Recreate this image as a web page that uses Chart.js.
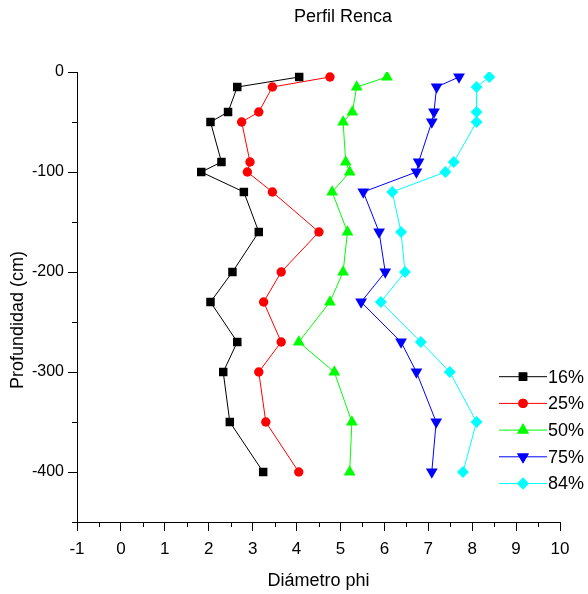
<!DOCTYPE html>
<html>
<head>
<meta charset="utf-8">
<script src="https://cdn.jsdelivr.net/npm/chart.js@4.4.1/dist/chart.umd.min.js"></script>
<style>
html,body{margin:0;padding:0;background:#fff;}
#caja{width:588px;height:594px;}
</style>
</head>
<body>
<div id="caja"><canvas id="grafico" width="588" height="594"></canvas></div>
<script>
// profundidad de cada muestra (cm)
var profundidad = [-5, -15, -40, -50, -90, -100, -120, -160, -200, -230, -270, -300, -350, -400];

// diametro phi por percentil
var p16 = [4.06, 2.65, 2.44, 2.04, 2.29, 1.83, 2.80, 3.14, 2.54, 2.04, 2.65, 2.33, 2.48, 3.24];
var p25 = [4.76, 3.45, 3.14, 2.75, 2.94, 2.88, 3.45, 4.51, 3.65, 3.25, 3.65, 3.14, 3.30, 4.05];
var p50 = [6.06, 5.37, 5.27, 5.06, 5.12, 5.21, 4.81, 5.16, 5.06, 4.76, 4.05, 4.86, 5.26, 5.21];
var p75 = [7.70, 7.19, 7.13, 7.08, 6.78, 6.73, 5.52, 5.88, 6.02, 5.47, 6.38, 6.73, 7.18, 7.08];
var p84 = [8.39, 8.10, 8.10, 8.10, 7.58, 7.39, 6.18, 6.38, 6.47, 5.92, 6.83, 7.49, 8.10, 7.79];

var etiquetas = ["16%", "25%", "50%", "75%", "84%"];
var colores = ["#000000", "#ff0000", "#00ff00", "#0000ff", "#00ffff"];

var titulo = "Perfil Renca";
var tituloX = "Diámetro phi";
var tituloY = "Profundidad (cm)";

var fuente = "'Liberation Sans', Arial, sans-serif";

var series = [p16, p25, p50, p75, p84];
var marcas = [
	{ style: 'rect', radius: 6, rotation: 0 },
	{ style: 'circle', radius: 4.7, rotation: 0 },
	{ style: 'triangle', radius: 6.8, rotation: 0 },
	{ style: 'triangle', radius: 6.8, rotation: 180 },
	{ style: 'rectRot', radius: 6, rotation: 0 }
];

function armarPuntos(valores){
	return valores.map(function(v, i){ return { x: v, y: profundidad[i] }; });
}

var conjuntos = series.map(function(s, i){
	return {
		label: etiquetas[i],
		data: armarPuntos(s),
		showLine: true,
		borderColor: colores[i],
		backgroundColor: colores[i],
		borderWidth: 1,
		pointStyle: marcas[i].style,
		pointRadius: marcas[i].radius,
		pointRotation: marcas[i].rotation,
		pointBorderWidth: 0,
		pointBackgroundColor: colores[i],
		pointHoverRadius: marcas[i].radius
	};
});

// textos, ticks menores y leyenda
var extras = {
	id: 'extras',
	afterDraw: function(chart){
		var ctx = chart.ctx;
		var xs = chart.scales.x, ys = chart.scales.y;
		ctx.save();
		ctx.strokeStyle = '#000';
		ctx.lineWidth = 1;
		// ticks menores
		ys.ticks.forEach(function(t){
			if (t.value % 100 !== 0) {
				var py = Math.round(ys.getPixelForValue(t.value)) + 0.5;
				ctx.beginPath();
				ctx.moveTo(xs.left - 5, py);
				ctx.lineTo(xs.left, py);
				ctx.stroke();
			}
		});
		xs.ticks.forEach(function(t){
			if (t.value % 1 !== 0) {
				var px = Math.round(xs.getPixelForValue(t.value)) + 0.5;
				ctx.beginPath();
				ctx.moveTo(px, ys.bottom);
				ctx.lineTo(px, ys.bottom + 5);
				ctx.stroke();
			}
		});

		ctx.fillStyle = '#000';
		ctx.font = '18px ' + fuente;
		ctx.textAlign = 'center';
		ctx.textBaseline = 'middle';
		ctx.fillText(titulo, 343, 17);
		ctx.fillText(tituloX, (xs.left + xs.right) / 2, 581);
		ctx.save();
		ctx.translate(18, 320);
		ctx.rotate(-Math.PI / 2);
		ctx.fillText(tituloY, 0, 0);
		ctx.restore();

		// leyenda
		ctx.textAlign = 'left';
		chart.data.datasets.forEach(function(ds, i){
			var ly = 376.7 + 26.7 * i;
			ctx.strokeStyle = ds.borderColor;
			ctx.beginPath();
			ctx.moveTo(499, ly);
			ctx.lineTo(547, ly);
			ctx.stroke();
			ctx.fillStyle = ds.backgroundColor;
			Chart.helpers.drawPoint(ctx, {
				pointStyle: ds.pointStyle,
				radius: ds.pointRadius,
				rotation: ds.pointRotation,
				borderWidth: 0
			}, 523, ly);
			ctx.fill();
			ctx.fillStyle = '#000';
			ctx.fillText(ds.label, 548, ly + 1);
		});
		ctx.restore();
	}
};

function init(){
	var canvas = document.getElementById('grafico').getContext('2d');
	window.perfil = new Chart(canvas, {
		type: 'scatter',
		data: { datasets: conjuntos },
		options: {
			responsive: false,
			animation: false,
			layout: { padding: { top: 72, right: 28, left: 0, bottom: 0 } },
			plugins: {
				legend: { display: false },
				title: { display: false },
				tooltip: { enabled: false }
			},
			scales: {
				x: {
					type: 'linear',
					min: -1,
					max: 10,
					afterFit: function(scale){ scale.height = 72; },
					ticks: {
						stepSize: 0.5,
						autoSkip: false,
						maxRotation: 0,
						padding: 8,
						color: '#000',
						font: { family: fuente, size: 17 },
						callback: function(v){ return (v % 1 === 0) ? v : ''; }
					},
					grid: {
						drawOnChartArea: false,
						tickLength: 9,
						color: function(c){ return (c.tick && c.tick.value % 1 === 0) ? '#000' : 'rgba(0,0,0,0)'; }
					},
					border: { color: '#000', width: 1 }
				},
				y: {
					type: 'linear',
					min: -450,
					max: 0,
					afterFit: function(scale){ scale.width = 77; },
					ticks: {
						stepSize: 50,
						autoSkip: false,
						padding: 4,
						color: '#000',
						font: { family: fuente, size: 16 },
						callback: function(v){ return (v % 100 === 0) ? v : ''; }
					},
					grid: {
						drawOnChartArea: false,
						tickLength: 9,
						color: function(c){ return (c.tick && c.tick.value % 100 === 0) ? '#000' : 'rgba(0,0,0,0)'; }
					},
					border: { color: '#000', width: 1 }
				}
			}
		},
		plugins: [extras]
	});
}

init();
</script>
</body>
</html>
